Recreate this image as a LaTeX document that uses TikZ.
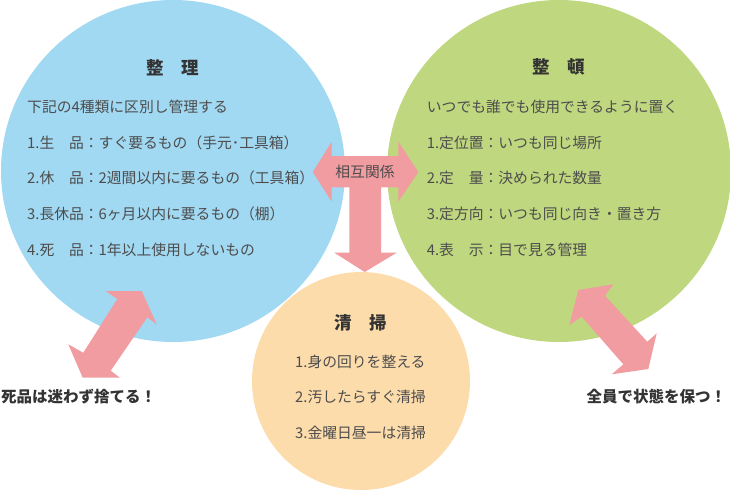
\documentclass[tikz,border=0pt]{standalone}
\usepackage{fontspec}
\setmainfont{Noto Sans CJK JP}
\definecolor{cblue}{HTML}{A1D8F2}
\definecolor{cgreen}{HTML}{BFD77F}
\definecolor{corange}{HTML}{FDDCAB}
\definecolor{cpink}{HTML}{F19CA0}
\definecolor{ctext}{HTML}{4D4D4D}
\definecolor{ctitle}{HTML}{333333}
\tikzset{
  body/.style={anchor=west, inner sep=0pt, text=ctext, font=\fontsize{14.8pt}{18pt}\selectfont},
  heading/.style={inner sep=0pt, text=ctitle, font=\fontsize{17.5pt}{20pt}\selectfont\bfseries},
  tagline/.style={anchor=west, inner sep=0pt, text=ctitle, font=\fontsize{15.5pt}{18pt}\selectfont\bfseries},
  arrowshape/.style={fill=cpink},
}
\begin{document}
\begin{tikzpicture}[x=1pt,y=-1pt]
\useasboundingbox (0,0) rectangle (730,490);
% circles
\fill[cblue] (173,171) ellipse [x radius=172pt, y radius=171pt];
\fill[cgreen] (559,171) ellipse [x radius=172pt, y radius=171pt];
\fill[corange] (361,381) ellipse [x radius=109pt, y radius=109pt];
% central T arrow
\fill[arrowshape] (312.7,172) -- (331.7,141.7) -- (331.7,156) -- (398.3,156) -- (398.3,141.7)
  -- (418.3,172) -- (398.3,201.7) -- (398.3,187.3) -- (381,187.3) -- (381,252.7)
  -- (396.7,252.7) -- (364.7,272) -- (334.3,252.7) -- (349.3,252.7) -- (349.3,187.3)
  -- (331.7,187.3) -- (331.7,201.7) -- cycle;
% left diagonal arrow
\fill[arrowshape] (105.7,291) -- (141.7,291) -- (156.7,324.3) -- (147.3,317.3)
  -- (110.7,370.7) -- (120,377.7) -- (82.7,377.7) -- (68.3,344.3) -- (83.3,352.7)
  -- (117.3,299) -- cycle;
% right diagonal arrow
\fill[arrowshape] (578.3,290) -- (613.3,284.3) -- (605,295.7) -- (647.3,341.7)
  -- (656.7,333.3) -- (648.3,369) -- (611.7,374.3) -- (623.3,364.3) -- (581.7,316.7)
  -- (569.3,325) -- cycle;
% relation label
\node[inner sep=0pt, text=ctext, font=\fontsize{14.8pt}{18pt}\selectfont] (rel) at (365,172) {相互関係};
% left circle
\node[heading] (seiri) at (172.3,67.3) {整　理};
\node[body] (l0) at (27,106.7) {下記の4種類に区別し管理する};
\node[body] (l1) at (27,143.3) {1.生　品：すぐ要るもの（手元･工具箱）};
\node[body] (l2) at (27,178.3) {2.休　品：2週間以内に要るもの（工具箱）};
\node[body] (l3) at (27,214) {3.長休品：6ヶ月以内に要るもの（棚）};
\node[body] (l4) at (27,250) {4.死　品：1年以上使用しないもの};
% right circle
\node[heading] (seiton) at (559,67.3) {整　頓};
\node[body] (r0) at (426.7,106.7) {いつでも誰でも使用できるように置く};
\node[body] (r1) at (426.7,143.3) {1.定位置：いつも同じ場所};
\node[body] (r2) at (426.7,178.3) {2.定　量：決められた数量};
\node[body] (r3) at (426.7,214) {3.定方向：いつも同じ向き・置き方};
\node[body] (r4) at (426.7,250) {4.表　示：目で見る管理};
% bottom circle
\node[heading] (seisou) at (361,323) {清　掃};
\node[body] (b1) at (295,361.7) {1.身の回りを整える};
\node[body] (b2) at (295,396.7) {2.汚したらすぐ清掃};
\node[body] (b3) at (295,433.3) {3.金曜日昼一は清掃};
% taglines
\node[tagline] (tagl) at (1,397) {死品は迷わず捨てる！};
\node[tagline] (tagr) at (586.5,397) {全員で状態を保つ！};
\end{tikzpicture}
\end{document}
